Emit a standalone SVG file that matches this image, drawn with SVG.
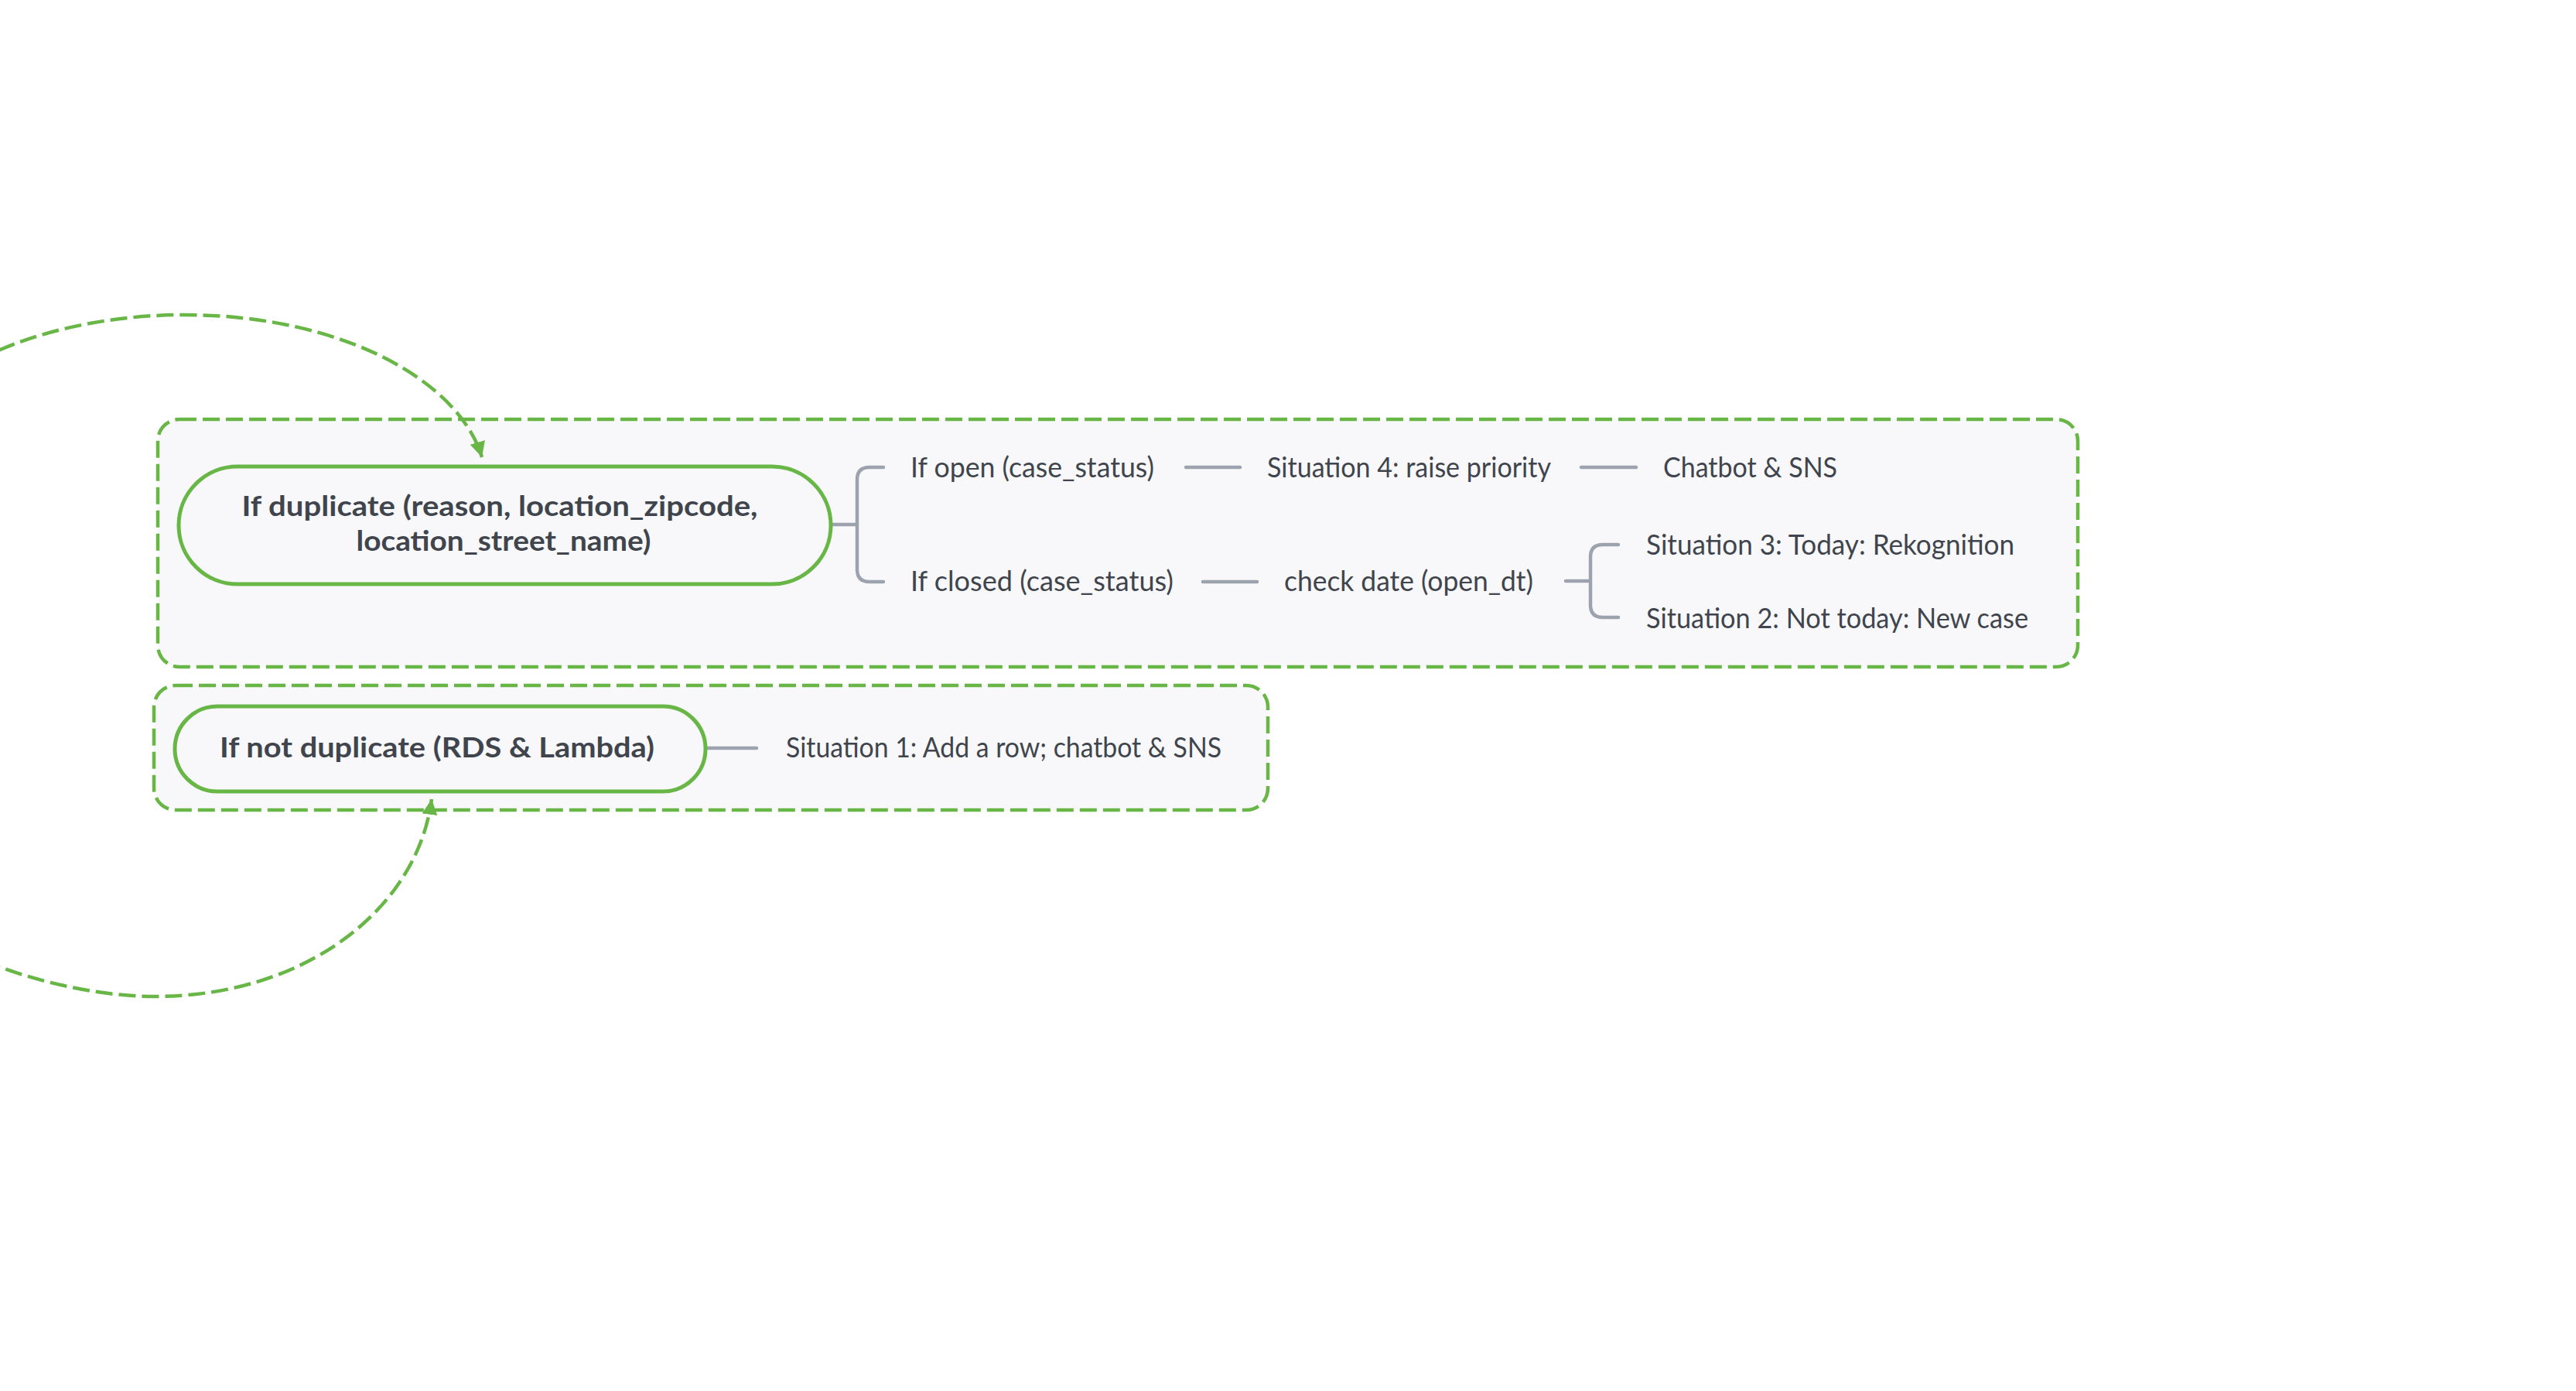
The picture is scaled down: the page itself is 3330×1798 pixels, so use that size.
<svg xmlns="http://www.w3.org/2000/svg" width="3330" height="1798" viewBox="0 0 3330 1798">
<style>
.bg{fill:#ffffff}
.box{fill:#f8f8fa;stroke:#67b646;stroke-width:4.5;stroke-dasharray:22 8}
.node{fill:#f8f8fa;stroke:#67b646;stroke-width:5}
.bold{font-family:Lato,"Open Sans",sans-serif;font-weight:700;font-size:36px;fill:#40454d}
.reg{font-family:Lato,"Open Sans",sans-serif;font-weight:400;font-size:36px;fill:#40454d}
.ln{fill:none;stroke:#9ca3ae;stroke-width:4.5;stroke-linecap:round}
.rel{fill:none;stroke:#67b646;stroke-width:4.5;stroke-dasharray:22 8}
</style>
<defs>
<marker id="ah" markerUnits="userSpaceOnUse" markerWidth="24" markerHeight="24" refX="20" refY="10" orient="auto">
<path d="M0,0 L20,10 L0,20 z" fill="#67b646"/>
</marker>
</defs>
<rect class="bg" x="0" y="0" width="3330" height="1798"/>
<g id="boundary-duplicate"><rect class="box" x="204" y="542" width="2482" height="320" rx="28"/></g>
<g id="boundary-not-duplicate"><rect class="box" x="199" y="886" width="1440" height="161" rx="28"/></g>
<g id="connectors">
<path class="ln" d="M1074,678 H1108"/>
<path class="ln" d="M1142,604 H1124 Q1108,604 1108,620 V736 Q1108,752 1124,752 H1142"/>
<path class="ln" d="M1533,604 H1603"/>
<path class="ln" d="M2044,604 H2115"/>
<path class="ln" d="M1555,752 H1625"/>
<path class="ln" d="M2024,751 H2056"/>
<path class="ln" d="M2092,704 H2072 Q2056,704 2056,720 V782 Q2056,798 2072,798 H2092"/>
<path class="ln" d="M912,967 H978"/>
<path class="rel" d="M-100,520 C-40,450 100,407 237,407 C448,407 595,496 623,591" marker-end="url(#ah)"/>
<path class="rel" d="M-100,1200 C-30,1250 100,1288 200,1288 C397,1288 540,1173 558,1033" marker-end="url(#ah)"/>
</g>
<g id="node-duplicate">
<rect class="node" x="231" y="603" width="843" height="152" rx="76"/>
<text class="bold" x="646" y="667" text-anchor="middle" textLength="667" lengthAdjust="spacingAndGlyphs">If duplicate (reason, location_zipcode,</text>
<text class="bold" x="651" y="712" text-anchor="middle" textLength="381" lengthAdjust="spacingAndGlyphs">location_street_name)</text>
</g>
<g id="node-open"><text class="reg" x="1177" y="617" textLength="315" lengthAdjust="spacingAndGlyphs">If open (case_status)</text></g>
<g id="node-sit4"><text class="reg" x="1638" y="617" textLength="367" lengthAdjust="spacingAndGlyphs">Situation 4: raise priority</text></g>
<g id="node-chatbot"><text class="reg" x="2150" y="617" textLength="225" lengthAdjust="spacingAndGlyphs">Chatbot &amp; SNS</text></g>
<g id="node-closed"><text class="reg" x="1177" y="764" textLength="340" lengthAdjust="spacingAndGlyphs">If closed (case_status)</text></g>
<g id="node-check"><text class="reg" x="1660" y="764" textLength="322" lengthAdjust="spacingAndGlyphs">check date (open_dt)</text></g>
<g id="node-sit3"><text class="reg" x="2128" y="717" textLength="476" lengthAdjust="spacingAndGlyphs">Situation 3: Today: Rekognition</text></g>
<g id="node-sit2"><text class="reg" x="2128" y="812" textLength="494" lengthAdjust="spacingAndGlyphs">Situation 2: Not today: New case</text></g>
<g id="node-not-duplicate">
<rect class="node" x="226" y="913" width="686" height="110" rx="55"/>
<text class="bold" x="565" y="979" text-anchor="middle" textLength="562" lengthAdjust="spacingAndGlyphs">If not duplicate (RDS &amp; Lambda)</text>
</g>
<g id="node-sit1"><text class="reg" x="1016" y="979" textLength="563" lengthAdjust="spacingAndGlyphs">Situation 1: Add a row; chatbot &amp; SNS</text></g>
</svg>
